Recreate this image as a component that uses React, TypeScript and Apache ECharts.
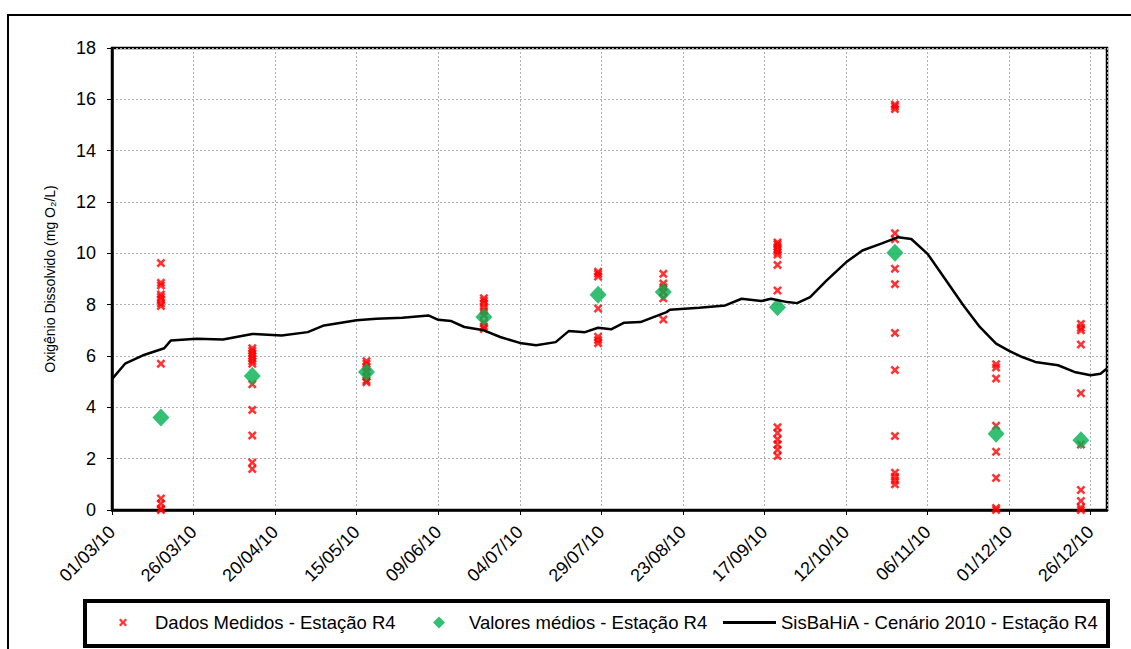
import React, { useEffect, useRef } from "react";
import * as echarts from "echarts";

// ---------- DATA ----------
const measuredDates = ["16/03", "13/04", "18/05", "23/06", "28/07", "17/08", "21/09", "27/10", "27/11", "23/12"];
const measuredValues: number[][] = [
  [9.62, 8.85, 8.75, 8.4, 8.3, 8.2, 8.05, 7.95, 5.7, 0.45, 0.25, 0.05, 0.0],
  [6.3, 6.2, 6.1, 6.0, 5.9, 5.8, 5.7, 4.9, 3.9, 2.9, 1.85, 1.6],
  [5.8, 5.7, 5.55, 5.4, 5.2, 5.05, 4.98],
  [8.25, 8.15, 8.05, 7.9, 7.75, 7.6, 7.3, 7.15, 7.05],
  [9.28, 9.2, 9.1, 7.85, 6.75, 6.62, 6.5],
  [9.2, 8.82, 8.68, 8.5, 8.25, 7.42],
  [10.42, 10.35, 10.25, 10.15, 10.05, 9.95, 9.55, 8.55, 3.22, 3.0, 2.75, 2.55, 2.35, 2.1],
  [15.8, 15.72, 15.62, 10.78, 10.55, 9.4, 8.8, 6.9, 5.45, 2.88, 1.45, 1.3, 1.15, 1.0],
  [5.68, 5.55, 5.12, 3.28, 2.27, 1.25, 0.08, 0.0],
  [7.25, 7.1, 7.0, 6.45, 4.55, 2.55, 0.78, 0.35, 0.1, 0.0],
];
const meanValues = [3.6, 5.22, 5.38, 7.52, 8.39, 8.49, 7.9, 10.02, 2.97, 2.72];

const modelDates = [
  "01/03", "05/03", "11/03", "17/03", "19/03", "27/03", "04/04", "13/04", "22/04", "30/04",
  "05/05", "15/05", "21/05", "29/05", "06/06", "09/06", "13/06", "17/06", "23/06", "28/06",
  "04/07", "09/07", "15/07", "19/07", "24/07", "28/07", "01/08", "05/08", "10/08", "18/08",
  "19/08", "28/08", "05/09", "10/09", "16/09", "19/09", "24/09", "27/09", "01/10", "06/10",
  "12/10", "17/10", "23/10", "28/10", "01/11", "06/11", "11/11", "17/11", "22/11", "27/11",
  "01/12", "05/12", "09/12", "16/12", "21/12", "26/12", "29/12", "31/12",
];
const modelValues = [
  5.1, 5.7, 6.05, 6.3, 6.6, 6.67, 6.64, 6.86, 6.8, 6.93,
  7.19, 7.39, 7.45, 7.49, 7.58, 7.41, 7.36, 7.13, 7.0, 6.74,
  6.51, 6.42, 6.54, 6.97, 6.93, 7.1, 7.04, 7.3, 7.32, 7.71,
  7.8, 7.88, 7.97, 8.23, 8.14, 8.23, 8.1, 8.06, 8.29, 8.94,
  9.65, 10.11, 10.39, 10.63, 10.56, 9.98, 9.07, 7.97, 7.13, 6.48,
  6.2, 5.96, 5.77, 5.64, 5.38, 5.25, 5.31, 5.51,
];

const seriesNames = [
  "Dados Medidos - Estação R4",
  "Valores médios - Estação R4",
  "SisBaHiA - Cenário 2010 - Estação R4",
];
const yAxisTitle = "Oxigênio Dissolvido (mg O₂/L)";

// ---------- HELPERS ----------
const START = Date.UTC(2010, 2, 1);
const DAY = 86400000;
const toDay = (s: string) => {
  const [d, m] = s.split("/").map(Number);
  return (Date.UTC(2010, m - 1, d) - START) / DAY;
};
const pad = (n: number) => (n < 10 ? "0" + n : "" + n);
const fmtDay = (v: number) => {
  const dt = new Date(START + Math.round(v) * DAY);
  return pad(dt.getUTCDate()) + "/" + pad(dt.getUTCMonth() + 1) + "/" + pad(dt.getUTCFullYear() % 100);
};

const FONT = "'Liberation Sans', Arial, Helvetica, sans-serif";
const X_SYMBOL = "path://M0,2L2,0L5,3L8,0L10,2L7,5L10,8L8,10L5,7L2,10L0,8L3,5Z";

export default function App() {
  const ref = useRef<HTMLDivElement>(null);

  useEffect(() => {
    if (!ref.current) return;
    const chart = echarts.init(ref.current, null, { renderer: "svg" });

    const measuredData: number[][] = [];
    measuredDates.forEach((d, i) => {
      measuredValues[i].forEach((v) => measuredData.push([toDay(d), v]));
    });
    const meanData = measuredDates.map((d, i) => [toDay(d), meanValues[i]]);
    const modelData = modelDates.map((d, i) => [toDay(d), modelValues[i]]);

    const legendText = (padLeft: number) => ({
      fontSize: 18.5,
      color: "#000",
      fontFamily: FONT,
      padding: [0, 0, 0, padLeft],
    });

    chart.setOption({
      animation: false,
      backgroundColor: "#fff",
      grid: {
        left: 112,
        top: 48,
        width: 995,
        height: 462,
        show: true,
        borderColor: "#000",
        borderWidth: 2.5,
        backgroundColor: "#fff",
        containLabel: false,
      },
      xAxis: {
        type: "value",
        min: 0,
        max: 305,
        interval: 25,
        axisLine: { show: true, onZero: false, lineStyle: { color: "#000", width: 2.5 } },
        axisTick: { show: true, length: 5, lineStyle: { color: "#000", width: 1 } },
        axisLabel: {
          rotate: 45,
          margin: 19,
          fontSize: 18,
          color: "#000",
          fontFamily: FONT,
          showMaxLabel: false,
          formatter: (v: number) => fmtDay(v),
        },
        splitLine: { show: true, lineStyle: { color: "#b0b0b0", type: [2, 2], width: 1 } },
      },
      yAxis: {
        type: "value",
        min: 0,
        max: 18,
        interval: 2,
        name: yAxisTitle,
        nameLocation: "middle",
        nameGap: 55,
        nameTextStyle: { fontSize: 14, color: "#000", fontFamily: FONT, padding: [0, 0, 0, 0] },
        axisLine: { show: true, lineStyle: { color: "#000", width: 2.5 } },
        axisTick: { show: true, length: 5, lineStyle: { color: "#000", width: 1 } },
        axisLabel: { margin: 16, fontSize: 18, color: "#000", fontFamily: FONT },
        splitLine: { show: true, lineStyle: { color: "#b0b0b0", type: [2, 2], width: 1 } },
      },
      legend: [
        {
          data: [seriesNames[0]],
          left: 119,
          top: 613,
          padding: 0,
          itemWidth: 8,
          itemHeight: 8,
          selectedMode: false,
          textStyle: legendText(23),
        },
        {
          data: [seriesNames[1]],
          left: 433,
          top: 613,
          padding: 0,
          itemWidth: 12,
          itemHeight: 12,
          selectedMode: false,
          textStyle: legendText(19),
        },
        {
          data: [{ name: seriesNames[2], icon: "rect" }],
          left: 723,
          top: 613,
          padding: 0,
          itemWidth: 53,
          itemHeight: 3,
          selectedMode: false,
          textStyle: legendText(0),
        },
      ],
      graphic: [
        {
          type: "rect",
          z: -10,
          shape: { x: 8, y: 15, width: 1200, height: 700 },
          style: { fill: "none", stroke: "#000", lineWidth: 2 },
        },
        {
          type: "rect",
          z: -5,
          shape: { x: 85, y: 601, width: 1023, height: 45 },
          style: { fill: "#fff", stroke: "#000", lineWidth: 4 },
        },
      ],
      series: [
        {
          name: seriesNames[0],
          type: "scatter",
          symbol: X_SYMBOL,
          symbolSize: 9,
          itemStyle: { color: "#ff0000" },
          data: measuredData,
          z: 2,
        },
        {
          name: seriesNames[1],
          type: "scatter",
          symbol: "diamond",
          symbolSize: [17, 18],
          itemStyle: { color: "#00b050" },
          data: meanData,
          z: 3,
        },
        {
          name: seriesNames[2],
          type: "line",
          symbol: "none",
          showSymbol: false,
          lineStyle: { color: "#000", width: 2.5 },
          itemStyle: { color: "#000" },
          data: modelData,
          z: 4,
        },
      ],
    });

    return () => chart.dispose();
  }, []);

  return (
    <div
      ref={ref}
      style={{ position: "fixed", left: 0, top: 0, width: 1131, height: 649, background: "#fff" }}
    />
  );
}
